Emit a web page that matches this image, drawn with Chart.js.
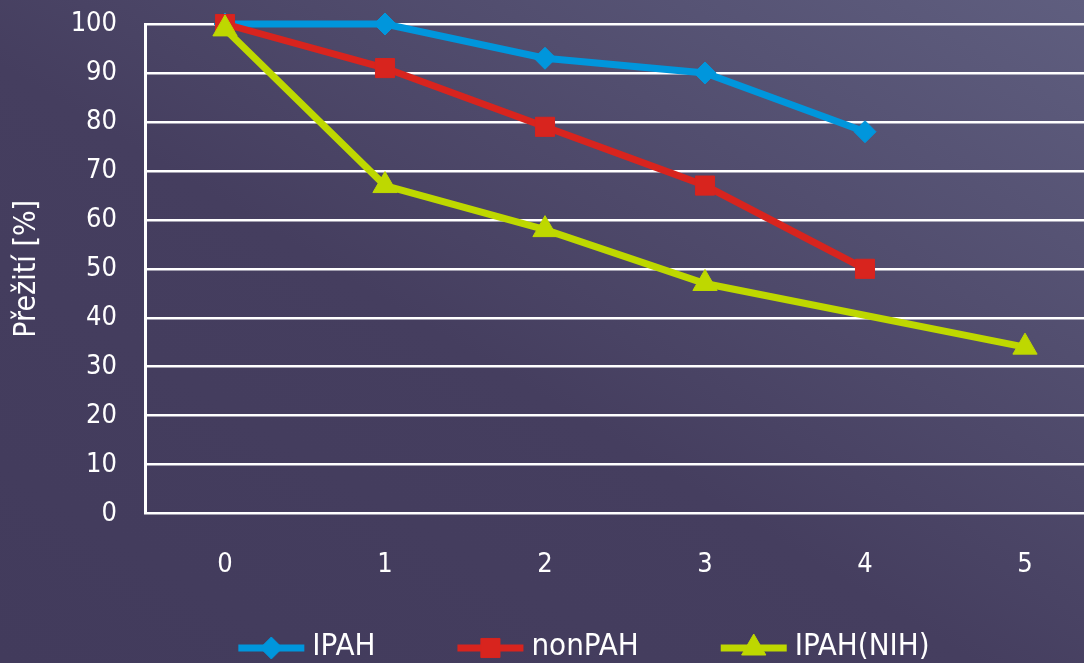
<!DOCTYPE html>
<html>
<head>
<meta charset="utf-8">
<script src="https://cdn.jsdelivr.net/npm/chart.js@4.4.0/dist/chart.umd.min.js"></script>
<style>
  html, body { margin: 0; padding: 0; width: 1084px; height: 663px; overflow: hidden; }
  body { background: linear-gradient(to top right, #423B5C 0%, #453E5F 45%, #5F5E7F 100%); }
  #wrap { position: absolute; left: 0; top: 0; width: 1110px; height: 663px; }
</style>
</head>
<body>
<div id="wrap"><canvas id="c" width="1110" height="663"></canvas></div>
<script>
// Years since diagnosis
const years = ['0', '1', '2', '3', '4', '5'];

// Survival [%] per group
const ipah    = [100, 100, 93, 90, 78, null];
const nonPah  = [100, 91, 79, 67, 50, null];
const ipahNih = [99, 67, 58, 47, null, 34];

const seriesNames = ['IPAH', 'nonPAH', 'IPAH(NIH)'];
const yAxisTitle = 'Přežití [%]';

const FONT = '"DejaVu Sans Condensed", "DejaVu Sans", sans-serif';
const WHITE = '#ffffff';

// order: later series are painted over earlier ones
function series(label, data, color, style, radius, order) {
  return {
    label, data, order,
    borderColor: color,
    backgroundColor: color,
    pointBackgroundColor: color,
    pointBorderColor: color,
    borderWidth: 7,
    pointStyle: style,
    pointRadius: radius,
    pointHoverRadius: radius,
    pointBorderWidth: 1,
    tension: 0,
    spanGaps: true,
    clip: false
  };
}

// Legend drawn below the plot: line segment with the marker, then the name
const bottomLegend = {
  id: 'bottomLegend',
  afterDraw(chart) {
    const ctx = chart.ctx;
    ctx.save();
    ctx.font = '31px ' + FONT;
    const LINE = 66, GAP = 8, SEP = 82, CENTER = 584, Y = 648;
    const items = chart.data.datasets.map(ds => ({ ds, w: ctx.measureText(ds.label).width }));
    const total = items.reduce((a, it) => a + LINE + GAP + it.w, 0) + SEP * (items.length - 1);
    let x = CENTER - total / 2;
    items.forEach(({ ds, w }) => {
      ctx.strokeStyle = ds.borderColor;
      ctx.lineWidth = 7;
      ctx.beginPath();
      ctx.moveTo(x, Y);
      ctx.lineTo(x + LINE, Y);
      ctx.stroke();
      ctx.fillStyle = ds.pointBackgroundColor;
      ctx.strokeStyle = ds.pointBorderColor;
      ctx.lineWidth = 1;
      Chart.helpers.drawPoint(ctx, { pointStyle: ds.pointStyle, radius: ds.pointRadius, rotation: 0, borderWidth: 1 }, x + LINE / 2, Y);
      ctx.fillStyle = WHITE;
      ctx.textAlign = 'left';
      ctx.textBaseline = 'middle';
      ctx.fillText(ds.label, x + LINE + GAP, Y - 1);
      x += LINE + GAP + w + SEP;
    });
    ctx.restore();
  }
};

new Chart(document.getElementById('c'), {
  type: 'line',
  data: {
    labels: years,
    datasets: [
      series(seriesNames[0], ipah, '#0096DC', 'rectRot', 11, 3),
      series(seriesNames[1], nonPah, '#D8241E', 'rect', 13.5, 2),
      series(seriesNames[2], ipahNih, '#BED800', 'triangle', 14, 1)
    ]
  },
  options: {
    responsive: false,
    animation: false,
    layout: { autoPadding: false, padding: { top: 24, right: 5, bottom: 47, left: 0 } },
    plugins: {
      legend: { display: false },
      tooltip: { enabled: false }
    },
    scales: {
      x: {
        offset: true,
        grid: { display: false, drawTicks: false },
        border: { display: false },
        ticks: { color: WHITE, font: { family: FONT, size: 27 }, padding: 35, maxRotation: 0 }
      },
      y: {
        min: 0,
        max: 100,
        afterFit(axis) {
          axis.width = 145;
          axis.paddingTop = 0;
          axis.paddingBottom = 0;
        },
        grid: { color: WHITE, lineWidth: 2.5, drawTicks: false },
        border: { display: true, color: WHITE, width: 3 },
        ticks: { stepSize: 10, color: WHITE, font: { family: FONT, size: 27 }, padding: 28 },
        title: {
          display: true,
          text: yAxisTitle,
          color: WHITE,
          font: { family: FONT, size: 30 },
          padding: { top: 9, bottom: 0 }
        }
      }
    }
  },
  plugins: [bottomLegend]
});
</script>
</body>
</html>
